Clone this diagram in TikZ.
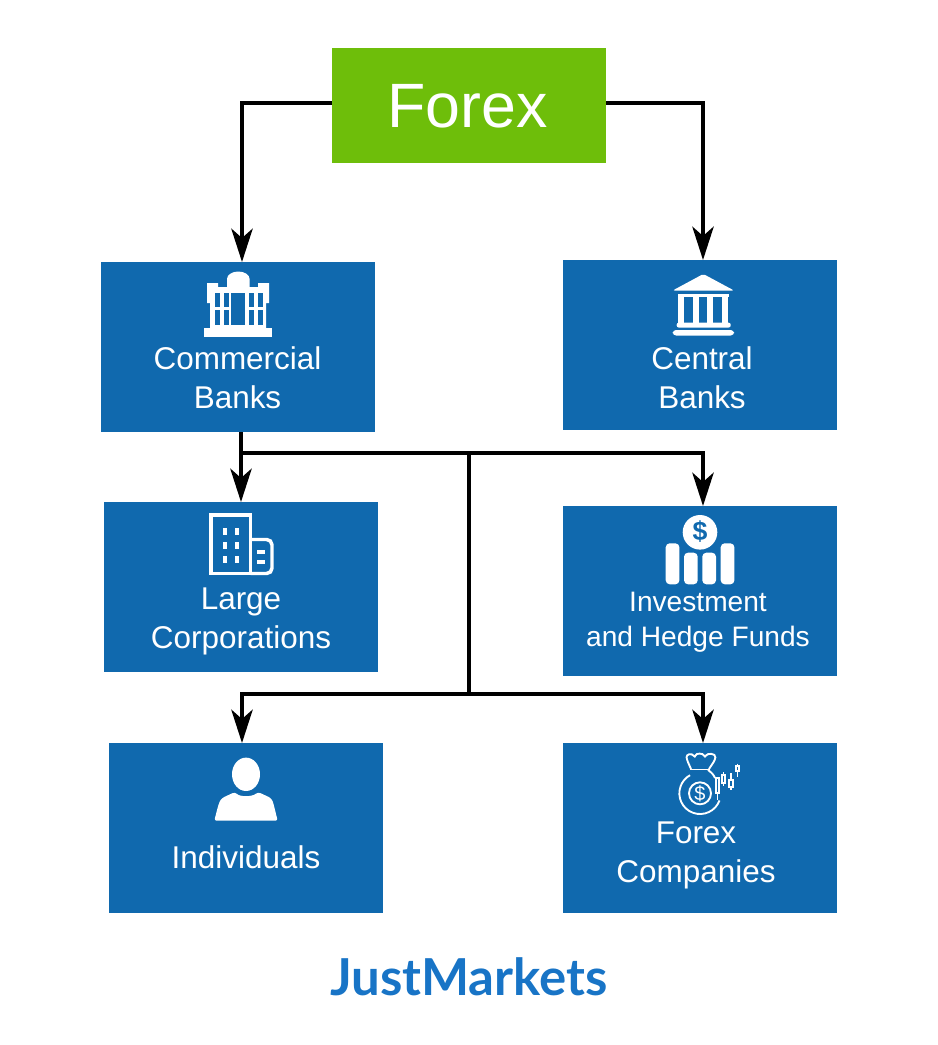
\documentclass[tikz,border=0pt]{standalone}
\usepackage{fontspec}
\setmainfont{Liberation Sans}
\newfontfamily\logofont{Lato}
\usetikzlibrary{arrows.meta}
\definecolor{boxblue}{HTML}{1069AE}
\definecolor{forexgreen}{HTML}{6EBE0A}
\definecolor{logoblue}{HTML}{1874C6}
\tikzset{
  box/.style={fill=boxblue, minimum width=205.5pt, minimum height=127.5pt, inner sep=0pt, outer sep=0pt},
  lbl/.style={text=white, align=center, font=\fontsize{23.6}{29.25}\selectfont, inner sep=0pt},
  smalllbl/.style={lbl, font=\fontsize{21.1}{26.25}\selectfont},
  link/.style={line width=3pt, -{Stealth[length=25pt,width=16pt,inset=7pt]}},
  trunk/.style={line width=3pt},
  icon/.style={fill=white, draw=none},
  iconline/.style={draw=white, line width=2.6pt},
  thinline/.style={draw=white, line width=1.4pt},
  hole/.style={fill=boxblue, draw=none}
}
\begin{document}
\begin{tikzpicture}[x=0.75pt, y=-0.75pt]
\useasboundingbox (0,0) rectangle (938,1045);

\node[box, fill=forexgreen, minimum height=86.25pt] (forex) at (469,105.5) {};
\node[box] (commercial) at (238,347) {};
\node[box] (central) at (700,345) {};
\node[box] (large) at (241,587) {};
\node[box] (funds) at (700,591) {};
\node[box] (individuals) at (246,828) {};
\node[box] (companies) at (700,828) {};

\node[text=white, inner sep=0pt, font=\fontsize{47}{47}\selectfont] (forexlbl) at (467.5,106) {Forex};
\node[lbl] (commerciallbl) at (237.5,378) {Commercial\\Banks};
\node[lbl] (centrallbl) at (702,378) {Central\\Banks};
\node[lbl] (largelbl) at (241,621) {Large\\Corporations};
\node[smalllbl] (fundslbl) at (698,622) {Investment\\and Hedge Funds};
\node[lbl] (individualslbl) at (246,857) {Individuals};
\node[lbl] (companieslbl) at (696,855) {Forex\\Companies};
\node[text=logoblue, inner sep=0pt, font=\logofont\fontsize{38.2}{38.2}\selectfont\bfseries] (logo) at (469,977) {JustMarkets};

% connectors
\coordinate (leftdrop) at (242,103);
\coordinate (rightdrop) at (703,103);
\coordinate (upperjoin) at (241,453);
\coordinate (lowerjoin) at (469,694);
\draw[link] (forex.west |- leftdrop) -| (commercial.north -| leftdrop);
\draw[link] (forex.east |- rightdrop) -| (central.north -| rightdrop);
\draw[link] (commercial.south -| upperjoin) -- (large.north -| upperjoin);
\draw[link] (upperjoin) -| (funds.north -| rightdrop);
\draw[trunk] (upperjoin -| lowerjoin) -- (lowerjoin);
\draw[link] (lowerjoin) -| (individuals.north -| leftdrop);
\draw[link] (lowerjoin) -| (companies.north -| rightdrop);

% commercial bank
\fill[icon] (203.5,337) rectangle (272,328);
\fill[icon] (207,303) -- (207,283) -- (218,283) -- (218,287) -- (227,287) -- (227,279)
  arc (180:360:11.3 and 7.5) -- (249.6,287) -- (258,287) -- (258,283) -- (269,283) -- (269,303)
  -- (266,303) -- (266,328) -- (210,328) -- (210,303) -- cycle;
\foreach \x in {214.5,223.5,249,257.5} {
  \fill[hole] (\x,292.5) rectangle +(5,14.5);
  \fill[hole] (\x,309.5) rectangle +(5,15.5);
}
\fill[hole] (230.5,292.5) rectangle (245,325);

% central bank
\fill[icon, rounded corners=1.5pt] (703.3,274) -- (734,290.5) -- (672.7,290.5) -- cycle;
\fill[icon] (677.7,294) rectangle (729,297);
\foreach \x in {678.3,693.3,707.3,721.7}
  \fill[icon] (\x,296) rectangle +(6,27);
\fill[icon, rounded corners=1.5pt] (676.7,322.7) rectangle (730.7,327.5);
\fill[icon, rounded corners=2.5pt] (672.7,330) rectangle (734,335.5);

% large corporations
\draw[iconline] (211,573.5) rectangle (250.5,515);
\draw[iconline, rounded corners=4pt] (250.5,539.5) -- (272,539.5) -- (272,573.5) -- (250.5,573.5);
\foreach \y in {527.5,541.5,556}
  \foreach \x in {222.5,234.5}
    \fill[icon] (\x,\y) rectangle +(4.2,7);
\foreach \y in {550,560}
  \fill[icon] (256.7,\y) rectangle +(8.3,4);

% investment funds
\fill[icon] (700,532.3) circle (17.3);
\node[text=boxblue, inner sep=0pt, font=\bfseries\fontsize{20}{20}\selectfont] (fundsdollar) at (700,532) {\$};
\foreach \x/\y in {665.7/543.3,684/552.7,702.3/552.7,720.7/543.3}
  \fill[icon, rounded corners=3pt] (\x,\y) rectangle (\x+13.7,584.3);

% individuals
\fill[icon] (246,774.3) ellipse (14 and 16.7);
\fill[icon, rounded corners=2pt] (214,820.7) .. controls (216,815) and (218,804) .. (222,798)
  -- (235,792) .. controls (240,797) and (252,797) .. (258,792)
  -- (271,798) .. controls (274,804) and (276,815) .. (278,820.7) -- cycle;

% forex companies
\draw[thinline] (719.5,800.4) arc (20:241:20.7);
\draw[thinline] (708,770) .. controls (711,772) and (714,775) .. (715,778);
\draw[thinline] (700,793.3) circle (11);
\node[text=white, inner sep=0pt, font=\fontsize{15}{15}\selectfont] (bagdollar) at (700,793.3) {\$};
\draw[thinline, rounded corners=2pt] (691,769) -- (687,760) .. controls (686,754) and (692,753) .. (695,758)
  .. controls (696,753) and (703,753) .. (705,758) .. controls (707,753) and (716,753) .. (715,760)
  -- (709,769);
\draw[thinline, rounded corners=1.5pt] (690,769.5) -- (710,769.5);
\foreach \x/\ya/\yb/\yc/\yd in {717.5/777/778/793/800,723.5/772/775/783/786,731/773/780/787/790,737.5/763.5/766/771/777} {
  \draw[thinline] (\x,\ya) -- (\x,\yb) (\x,\yc) -- (\x,\yd);
  \draw[thinline] (\x-1.8,\yb) rectangle (\x+1.8,\yc);
}

\end{tikzpicture}
\end{document}
